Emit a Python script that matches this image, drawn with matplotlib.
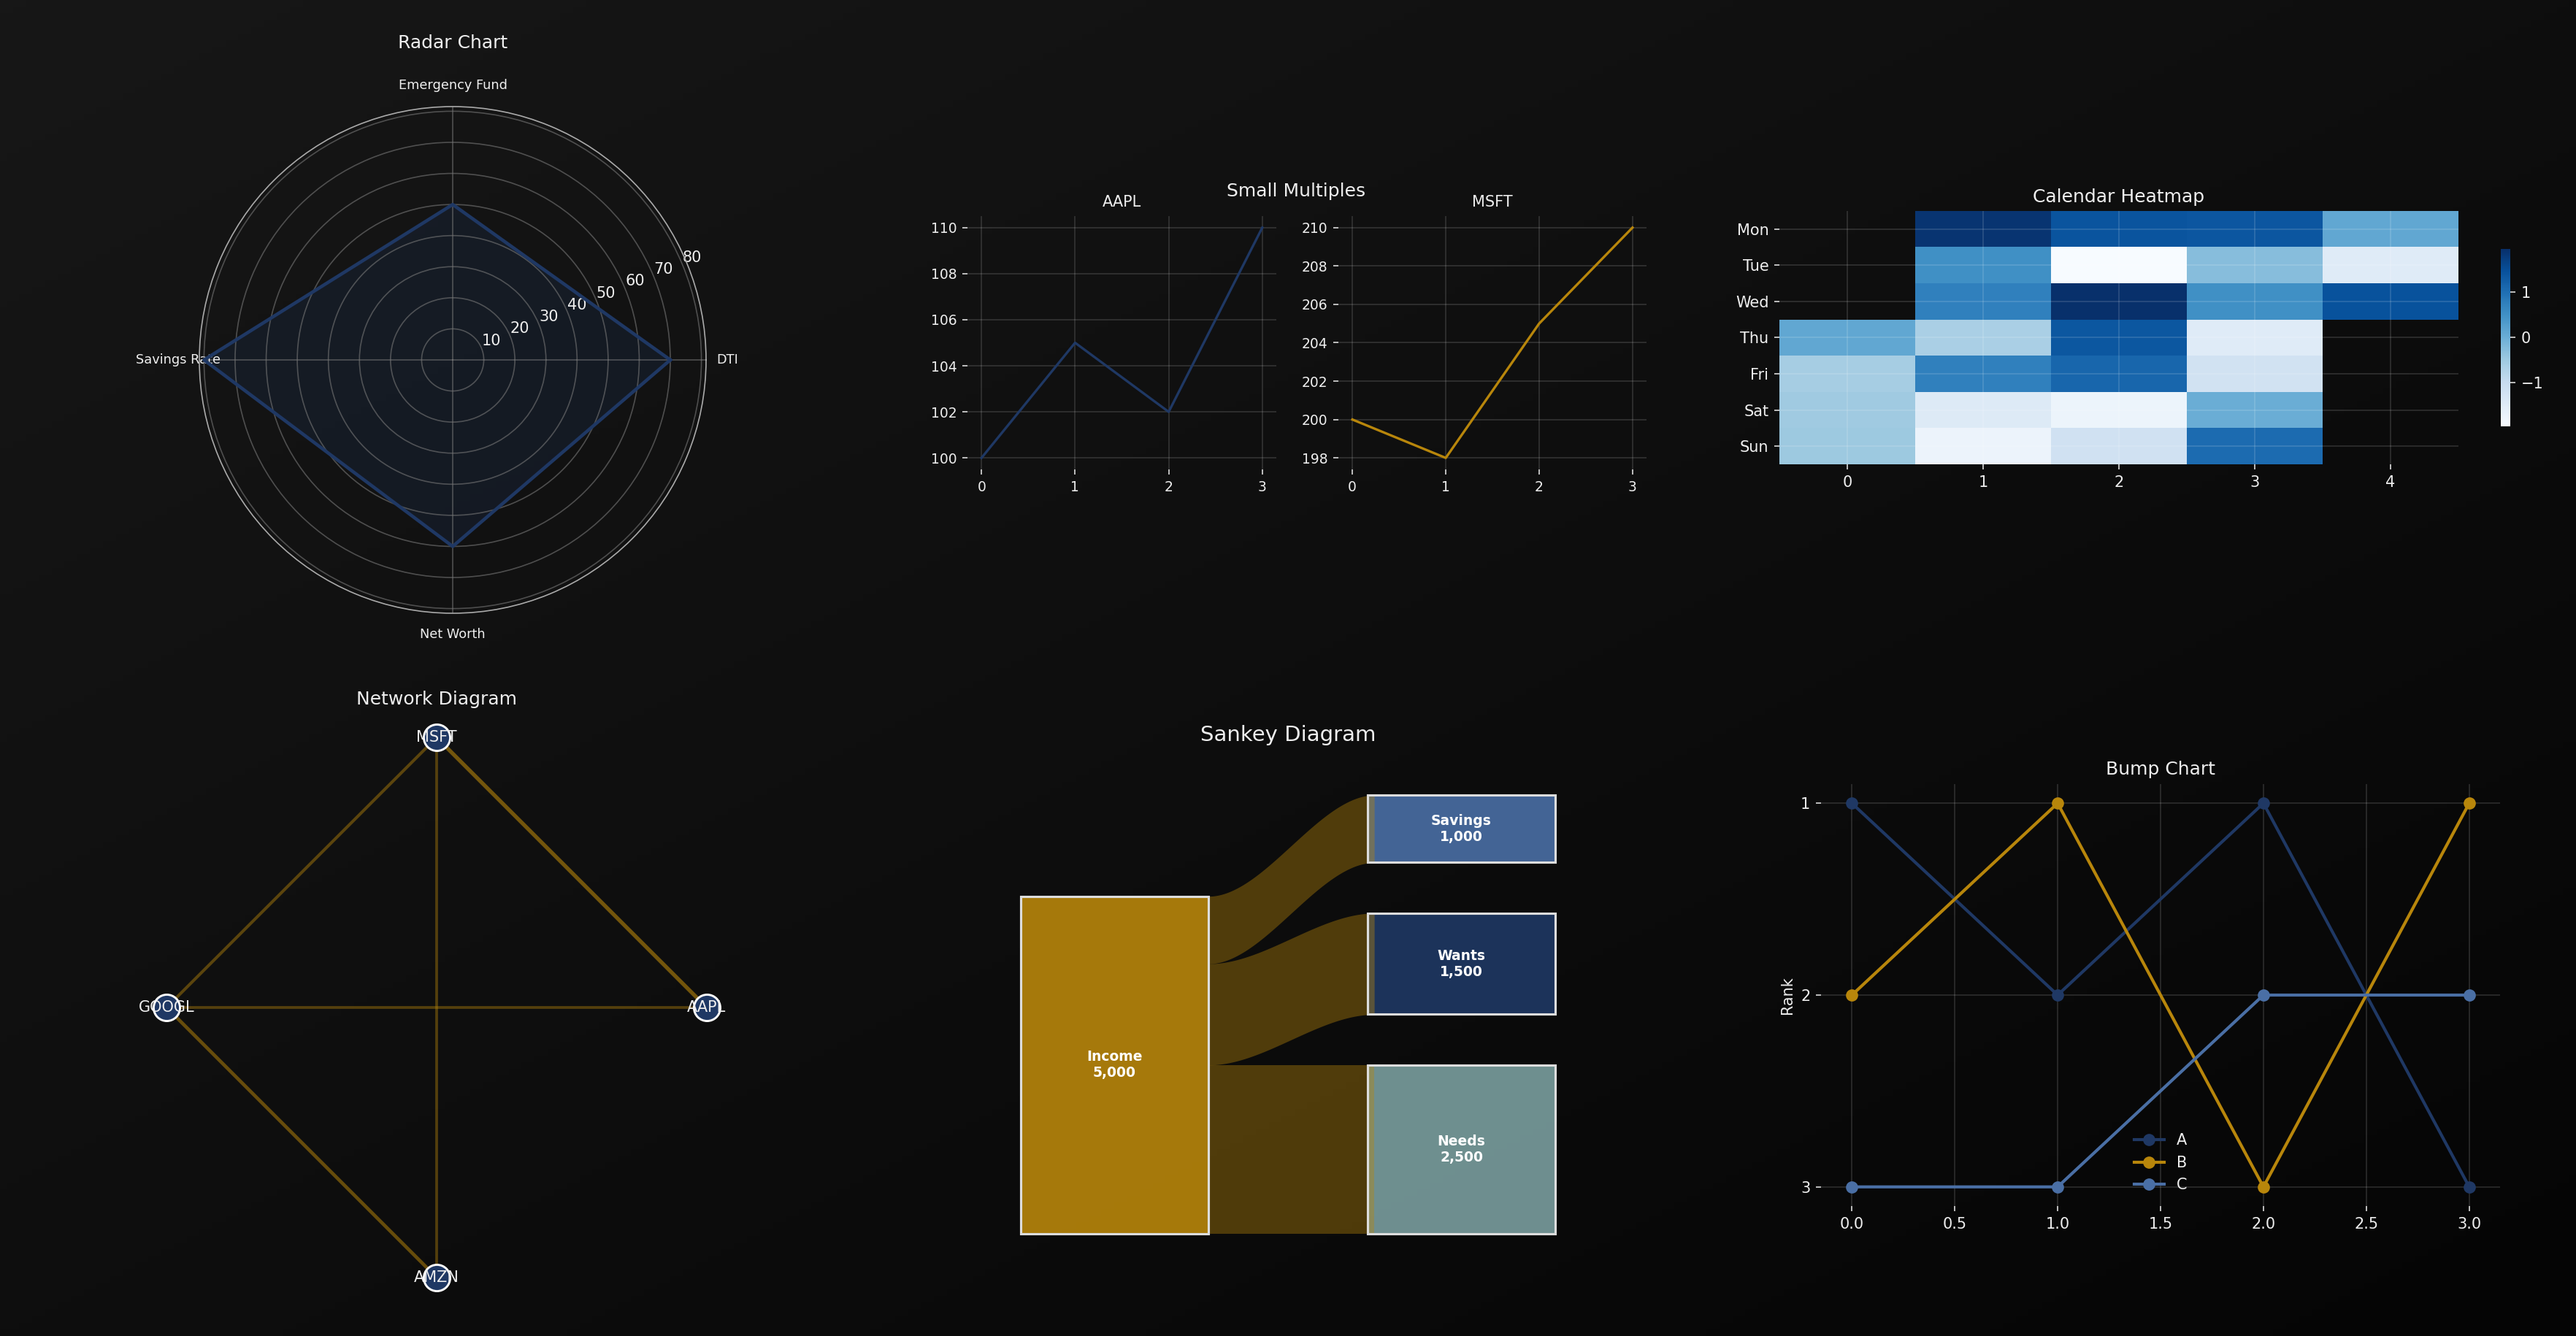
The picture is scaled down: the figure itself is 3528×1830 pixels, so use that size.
import numpy as np
import matplotlib
matplotlib.use("Agg")
import matplotlib.pyplot as plt
from matplotlib.colors import LinearSegmentedColormap
from matplotlib.patches import Rectangle

# ── Data ─────────────────────────────────────────────────────────────────────
radar_labels = ["DTI", "Emergency Fund", "Savings Rate", "Net Worth"]
radar_values = [70, 50, 80, 60]

sm_x     = [0, 1, 2, 3]
aapl     = [100, 105, 102, 110]
msft     = [200, 198, 205, 210]

days  = ["Mon", "Tue", "Wed", "Thu", "Fri", "Sat", "Sun"]
weeks = [0, 1, 2, 3, 4]
heat = np.array([
    [np.nan,  1.88,  1.40,  1.38,  0.11],
    [np.nan,  0.50, -1.97, -0.28, -1.50],
    [np.nan,  0.73,  1.95,  0.50,  1.44],
    [ 0.11,  -0.64,  1.36, -1.50, np.nan],
    [-0.60,   0.73,  1.13, -1.23, np.nan],
    [-0.52,  -1.48, -1.77, -0.01, np.nan],
    [-0.50,  -1.75, -1.19,  1.05, np.nan],
])

net_nodes = ["AAPL", "MSFT", "GOOGL", "AMZN"]
net_edges = [("AAPL", "MSFT", 0.85), ("AAPL", "GOOGL", 0.6), ("MSFT", "GOOGL", 0.65),
             ("MSFT", "AMZN", 0.6), ("GOOGL", "AMZN", 0.75)]

sankey_source  = ("Income", 5000)
sankey_targets = ["Savings", "Wants", "Needs"]
sankey_values  = [1000, 1500, 2500]

bump_x = [0, 1, 2, 3]
bump_series = {"A": [1, 2, 1, 3], "B": [2, 1, 3, 1], "C": [3, 3, 2, 2]}

# ── Style ────────────────────────────────────────────────────────────────────
NAVY, GOLD, STEEL, SAGE = "#1f3864", "#b8860b", "#4a6fa5", "#7a9e9f"
TXT = "#eeeeee"
GRID = dict(color="white", alpha=0.15, lw=0.8)

plt.rcParams.update({
    "font.family": "DejaVu Sans",
    "text.color": TXT,
    "axes.labelcolor": TXT,
    "xtick.color": "#dddddd",
    "ytick.color": "#dddddd",
    "xtick.labelcolor": TXT,
    "ytick.labelcolor": TXT,
    "axes.titlesize": 12,
    "axes.titlecolor": TXT,
})

W, H, DPI = 3528, 1830, 150
fig = plt.figure(figsize=(W / DPI, H / DPI), dpi=DPI)


def box(x0, y0, x1, y1):
    # pixel box (top-left origin) -> figure fraction rect
    return [x0 / W, 1 - y1 / H, (x1 - x0) / W, (y1 - y0) / H]


def clean(ax):
    ax.set_facecolor("none")
    for s in ax.spines.values():
        s.set_visible(False)


# background gradient (top-left lighter, bottom-right darker)
bg = fig.add_axes([0, 0, 1, 1], zorder=-10)
u, v = np.meshgrid(np.linspace(0, 1, 400), np.linspace(0, 1, 200))
bg.imshow((u + v) / 2, cmap=LinearSegmentedColormap.from_list("bg", ["#171717", "#050505"]),
          aspect="auto", extent=[0, 1, 0, 1], origin="upper")
bg.axis("off")

# ── Radar ────────────────────────────────────────────────────────────────────
ax = fig.add_axes(box(273, 146, 967, 840), projection="polar")
ax.set_facecolor("none")
ang = np.linspace(0, 2 * np.pi, len(radar_labels), endpoint=False)
ang_c = np.append(ang, ang[0])
val_c = np.append(radar_values, radar_values[0])
ax.plot(ang_c, val_c, color=NAVY, lw=2.2)
ax.fill(ang_c, val_c, color=NAVY, alpha=0.22)
ax.set_xticks(ang)
ax.set_xticklabels(radar_labels, fontsize=8.5)
ax.set_ylim(0, 81.5)
ax.set_yticks(range(10, 90, 10))
ax.tick_params(axis="y", labelsize=10)
ax.grid(color="#777777", alpha=0.6, lw=0.8)
ax.spines["polar"].set_color("#aaaaaa")
ax.set_title("Radar Chart", pad=20)

# ── Small multiples ──────────────────────────────────────────────────────────
for rect, name, vals, col in [((1325, 296, 1748, 643), "AAPL", aapl, NAVY),
                              ((1833, 296, 2255, 643), "MSFT", msft, GOLD)]:
    ax = fig.add_axes(box(*rect))
    clean(ax)
    ax.plot(sm_x, vals, color=col, lw=1.6)
    ax.set_title(name, fontsize=10)
    ax.set_xticks(sm_x)
    ax.tick_params(labelsize=9)
    ax.grid(True, **GRID)
fig.text(1775 / W, 1 - 262 / H, "Small Multiples", ha="center", va="center", fontsize=12)

# ── Calendar heatmap ─────────────────────────────────────────────────────────
ax = fig.add_axes(box(2437, 289, 3367, 636))
clean(ax)
im = ax.imshow(heat, cmap="Blues", aspect="auto", interpolation="nearest")
ax.set_xticks(range(len(weeks)))
ax.set_xticklabels(weeks)
ax.set_yticks(range(len(days)))
ax.set_yticklabels(days)
ax.grid(True, **GRID)
ax.set_title("Calendar Heatmap")
cax = fig.add_axes(box(3425, 341, 3438, 584))
cb = fig.colorbar(im, cax=cax, ticks=[-1, 0, 1])
cb.outline.set_visible(False)

# ── Network ──────────────────────────────────────────────────────────────────
ax = fig.add_axes(box(196, 978, 1000, 1782))
clean(ax)
n = len(net_nodes)
pos = {nm: (np.cos(2 * np.pi * i / n), np.sin(2 * np.pi * i / n)) for i, nm in enumerate(net_nodes)}
for a, b, w in net_edges:
    ax.plot([pos[a][0], pos[b][0]], [pos[a][1], pos[b][1]], color=GOLD,
            alpha=w * 0.7, lw=w * 3, solid_capstyle="butt", zorder=1)
xs = [pos[nm][0] for nm in net_nodes]
ys = [pos[nm][1] for nm in net_nodes]
ax.scatter(xs, ys, s=300, color=NAVY, edgecolor="white", lw=1.4, zorder=2)
for nm in net_nodes:
    ax.text(pos[nm][0], pos[nm][1], nm, ha="center", va="center", fontsize=10, color=TXT, zorder=3)
ax.set_xlim(-1.087, 1.087)
ax.set_ylim(-1.087, 1.087)
ax.set_xticks([])
ax.set_yticks([])
ax.set_title("Network Diagram")

# ── Sankey ───────────────────────────────────────────────────────────────────
ax = fig.add_axes(box(1330, 1028, 2198, 1760))
clean(ax)
gap = 750
src_name, src_val = sankey_source
ax.add_patch(Rectangle((0, 0), 1, src_val, facecolor=GOLD, alpha=0.9, zorder=2))
ax.add_patch(Rectangle((0, 0), 1, src_val, fill=False, edgecolor="#dddddd", lw=1.5, zorder=4))
ax.text(0.5, src_val / 2, f"{src_name}\n{src_val:,}", ha="center", va="center",
        fontsize=9, fontweight="bold", color="white", zorder=5)

tgt_colors = [STEEL, NAVY, SAGE]
t_x0, t_x1 = 1.85, 2.85
# targets stacked bottom-up: last target at the bottom
t_bottom = {}
y = 0
for name, val in reversed(list(zip(sankey_targets, sankey_values))):
    t_bottom[name] = y
    y += val + gap
s_top = src_val
xx = np.linspace(1.0, t_x0 + 0.035, 100)
tt = (xx - xx[0]) / (xx[-1] - xx[0])
ss = 3 * tt ** 2 - 2 * tt ** 3
for name, val, col in zip(sankey_targets, sankey_values, tgt_colors):
    tb = t_bottom[name]
    ax.add_patch(Rectangle((t_x0, tb), t_x1 - t_x0, val, facecolor=col, alpha=0.9, zorder=2))
    ax.add_patch(Rectangle((t_x0, tb), t_x1 - t_x0, val, fill=False, edgecolor="#dddddd", lw=1.5, zorder=4))
    ax.text((t_x0 + t_x1) / 2, tb + val / 2, f"{name}\n{val:,}", ha="center", va="center",
            fontsize=9, fontweight="bold", color="white", zorder=5)
    upper = s_top + (tb + val - s_top) * ss
    lower = (s_top - val) + (tb - (s_top - val)) * ss
    ax.fill_between(xx, lower, upper, color=GOLD, alpha=0.4, lw=0, zorder=3)
    s_top -= val
ax.set_xlim(-0.265, 3.115)
ax.set_ylim(-758, 7160)
ax.set_xticks([])
ax.set_yticks([])
ax.set_title("Sankey Diagram", fontsize=14)

# ── Bump chart ───────────────────────────────────────────────────────────────
ax = fig.add_axes(box(2494, 1074, 3424, 1652))
clean(ax)
for (name, ranks), col in zip(bump_series.items(), [NAVY, GOLD, STEEL]):
    ax.plot(bump_x, ranks, marker="o", ms=7, lw=2, color=col, label=name)
ax.invert_yaxis()
ax.set_yticks([1, 2, 3])
ax.set_ylabel("Rank")
ax.grid(True, **GRID)
ax.legend(loc="lower center", frameon=False, labelcolor=TXT)
ax.set_title("Bump Chart")

fig.savefig("out.png", dpi=DPI, facecolor="#0e0e0e")
